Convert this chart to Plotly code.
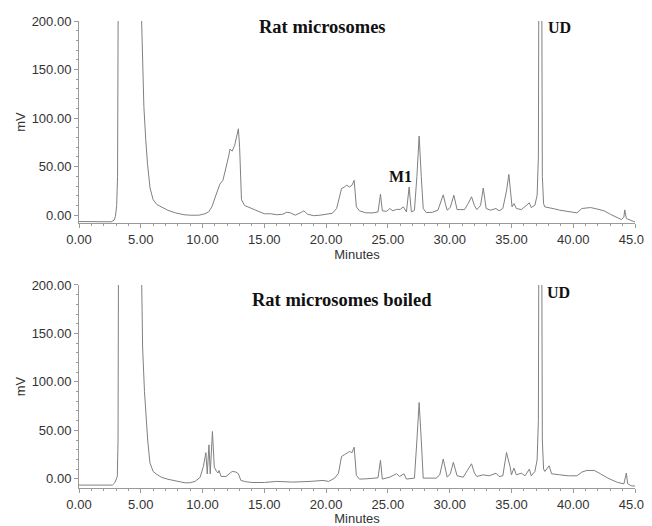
import plotly.graph_objects as go
from plotly.subplots import make_subplots

# Top chromatogram: Rat microsomes (time in minutes, signal in mV)
top_time = [0.0, 1.0, 2.0, 2.6, 2.85, 2.95, 3.05, 3.12, 3.18, 5.02, 5.07, 5.15, 5.25, 5.4, 5.55, 5.75,
            6.0, 6.3, 6.7, 7.2, 7.8, 8.5, 9.0, 9.7, 10.2, 10.5, 10.75, 11.0, 11.2, 11.4, 11.65, 11.9,
            12.1, 12.22, 12.4, 12.6, 12.75, 12.9, 13.0, 13.15, 13.4, 13.95, 14.5, 15.0, 15.5, 16.0,
            16.5, 16.8, 17.1, 17.5, 18.0, 18.2, 18.5, 19.0, 19.5, 20.0, 20.5, 20.85, 21.1, 21.25,
            21.5, 21.65, 21.9, 22.1, 22.27, 22.45, 22.7, 23.2, 23.8, 24.2, 24.4, 24.55, 24.9, 25.15,
            25.4, 25.7, 26.0, 26.25, 26.5, 26.72, 26.9, 27.15, 27.35, 27.53, 27.7, 27.86, 28.1, 28.6,
            29.05, 29.3, 29.48, 29.65, 29.8, 30.05, 30.34, 30.6, 31.2, 31.5, 31.77, 32.0, 32.2, 32.5,
            32.72, 32.95, 33.3, 33.75, 34.0, 34.3, 34.6, 34.79, 34.95, 35.05, 35.2, 35.4, 35.8, 36.1,
            36.45, 36.6, 36.9, 37.08, 37.18, 37.22, 37.45, 37.5, 37.6, 37.7, 38.1, 38.5, 38.9, 39.5,
            40.3, 40.7, 41.4, 41.9, 42.5, 43.0, 43.3, 43.9, 44.1, 44.17, 44.3, 44.7, 45.0]
top_mv = [-6.5, -6.6, -6.7, -6.8, -5, -1, 10, 40, 250, 250, 200, 150, 112, 78, 52, 28,
          16, 11, 8, 5, 2.4, 0.5, 0, 0, 1.5, 3.5, 8.6, 17, 25, 32, 36, 48,
          60, 68, 66, 72, 80, 89, 70, 16, 10, 7, 3.4, 1.5, 1.5, 0.5,
          1, 3, 2.5, 0, 3, 4.5, 1, -0.5, 0, 1, 2, 6.9, 20, 27.5,
          29, 31, 29, 31, 36, 8.6, 4.5, 2.5, 2.4, 3.4, 21.6, 4.5, 4, 6.9,
          4.5, 6, 6, 8.6, 3.4, 29, 3.4, 5, 40, 81.5, 40, 6.9, 2.7, 3,
          5.2, 15, 21, 12, 5.2, 8, 20.6, 5.8, 5.8, 12, 19, 10, 5.8, 10,
          28, 6.9, 5.2, 6.9, 4.5, 6.9, 25, 42, 20, 8.6, 12, 6.9, 5.8, 9.3,
          12.7, 7.9, 10.3, 20.6, 60, 250, 250, 40, 12, 8.6, 7.9, 6.5, 5.2, 4,
          2.4, 6.9, 7.9, 6.5, 4.5, 1, -1, -4.5, -2, 5.5, -3.4, -5.8, -7]

# Bottom chromatogram: Rat microsomes boiled
bot_time = [0.0, 1.0, 2.0, 2.7, 2.9, 3.05, 3.1, 3.16, 3.2, 5.02, 5.07, 5.15, 5.3, 5.45, 5.56, 5.74,
            6.0, 6.3, 6.7, 7.2, 7.8, 8.6, 9.0, 9.4, 9.8, 10.07, 10.27, 10.38, 10.52, 10.62, 10.8,
            10.9, 10.95, 11.14, 11.25, 11.33, 11.5, 11.9, 12.4, 12.7, 12.9, 13.1, 13.5, 14.0, 15.0,
            16.0, 17.3, 18.7, 19.75, 20.2, 20.7, 21.0, 21.25, 21.5, 21.65, 21.9, 22.1, 22.27, 22.45,
            22.7, 23.3, 23.8, 24.2, 24.4, 24.55, 25.15, 25.45, 25.7, 25.95, 26.3, 26.5, 27.15, 27.35,
            27.53, 27.7, 27.86, 28.9, 29.2, 29.48, 29.65, 29.8, 30.05, 30.3, 30.6, 31.1, 31.5, 31.77,
            32.0, 32.2, 32.7, 33.2, 33.75, 34.0, 34.3, 34.6, 34.9, 35.0, 35.2, 35.4, 35.8, 36.1,
            36.45, 36.6, 36.9, 37.08, 37.18, 37.22, 37.45, 37.5, 37.6, 37.7, 38.05, 38.25, 38.9,
            39.6, 40.3, 40.7, 41.1, 41.7, 42.2, 42.8, 43.6, 44.1, 44.3, 44.4, 44.7, 45.0]
bot_mv = [-6.5, -6.6, -6.7, -6.5, -4, 0, 2.4, 40, 250, 250, 200, 135, 90, 55, 40, 16.5,
          7.6, 4.5, 1.4, -0.5, -2, -4.2, -4, -2.7, 1.5, 12.9, 27, 5, 35, 5, 48.8,
          30, 12, 7.6, 6, 8.6, 2.4, 2.4, 7.6, 7, 5.2, -1.7, -3, -3.8, -3.8,
          -2.7, -3.4, -2.7, -1.7, -2.7, 0.7, 5.8, 23, 25, 26.5, 28.2, 27, 32.6, 3.4,
          -0.3, 0, 0.7, 1, 19, -0.3, 1.7, 3.5, 5.2, 2.4, 5.2, -0.3, 0.7, 40,
          78.7, 40, 0.7, 0.7, 4.1, 20.4, 12, 1.7, 5, 17, 3.1, 1.7, 10, 15.5,
          6, 2.4, 4.1, 3.1, 5.8, 2.4, 3, 27.1, 12, 4.1, 11, 4.1, 5.8, 3.1,
          10, 3.1, 7.6, 19.6, 60, 250, 250, 40, 10, 7.6, 13.4, 5.2, 4.1,
          3.1, 3.1, 6.9, 8.6, 8.6, 5.2, 0.7, -3.8, -5.2, 6, -5, -7.2, -7.5]

x_ticks = [0, 5, 10, 15, 20, 25, 30, 35, 40, 45]
y_ticks = [0, 50, 100, 150, 200]

fig = make_subplots(rows=2, cols=1, vertical_spacing=0.133)
line_style = dict(color="#808080", width=1)
fig.add_trace(go.Scatter(x=top_time, y=top_mv, mode="lines", line=line_style, showlegend=False), row=1, col=1)
fig.add_trace(go.Scatter(x=bot_time, y=bot_mv, mode="lines", line=line_style, showlegend=False), row=2, col=1)

tick_font = dict(family="Liberation Sans, Arial, sans-serif", size=13, color="#333333")
axis_common = dict(showgrid=False, zeroline=False, showline=True, linecolor="#9a9a9a", linewidth=1,
                   ticks="outside", ticklen=4, tickcolor="#9a9a9a", tickfont=tick_font,
                   tickformat=".2f", mirror=False, automargin=False)

for r, yr in [(1, [-8, 200]), (2, [-9.5, 200])]:
    fig.update_xaxes(range=[0, 45], tickvals=x_ticks,
                     minor=dict(dtick=1, ticks="outside", ticklen=2, tickcolor="#9a9a9a"),
                     title=dict(text="Minutes", font=tick_font, standoff=1), row=r, col=1, **axis_common)
    fig.update_yaxes(range=yr, tickvals=y_ticks,
                     minor=dict(dtick=10, ticks="outside", ticklen=2, tickcolor="#9a9a9a"),
                     title=dict(text="mV", font=tick_font, standoff=3), row=r, col=1, **axis_common)

fig.update_layout(yaxis=dict(domain=[0.5675, 1.0]), yaxis2=dict(domain=[0.0, 0.4347]))

label_font = dict(family="Liberation Serif, Times New Roman, serif", size=18.5, color="#111111")
small_label = dict(family="Liberation Serif, Times New Roman, serif", size=16, color="#111111")
notes = [
    dict(x=19.7, y=194, xref="x", yref="y", text="<b>Rat microsomes</b>", font=label_font),
    dict(x=38.9, y=193, xref="x", yref="y", text="<b>UD</b>", font=small_label),
    dict(x=26.05, y=40, xref="x", yref="y", text="<b>M1</b>", font=small_label),
    dict(x=21.3, y=184.5, xref="x2", yref="y2", text="<b>Rat microsomes boiled</b>", font=label_font),
    dict(x=38.8, y=192, xref="x2", yref="y2", text="<b>UD</b>", font=small_label),
]
for n in notes:
    fig.add_annotation(showarrow=False, **n)

# the page body adds an 8px offset; margins are set so the plot areas land where the reference has them
fig.update_layout(width=652, height=518, margin=dict(l=71, r=25, t=13, b=38),
                  plot_bgcolor="white", paper_bgcolor="white")

fig.write_html("out.html")
